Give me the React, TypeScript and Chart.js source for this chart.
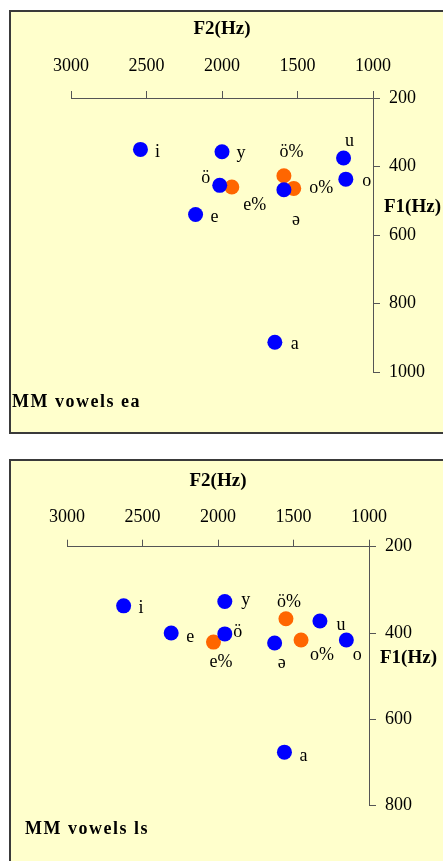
import React, { useEffect, useRef } from "react";
import { Chart, registerables } from "chart.js";

Chart.register(...registerables);

// ---------- Panel 1: "MM vowels ea" ----------
const eaVowelLabels = ["i", "y", "u", "o", "ö", "ə", "e", "a"];
const eaVowelF2 = [2540, 2000, 1195, 1180, 2015, 1590, 2175, 1650];
const eaVowelF1 = [350, 357, 375, 437, 455, 468, 540, 913];
const eaReducedLabels = ["e%", "ö%", "o%"];
const eaReducedF2 = [1935, 1590, 1525];
const eaReducedF1 = [460, 427, 464];

// ---------- Panel 2: "MM vowels ls" ----------
const lsVowelLabels = ["i", "y", "u", "e", "ö", "ə", "o", "a"];
const lsVowelF2 = [2625, 1955, 1325, 2310, 1955, 1625, 1150, 1560];
const lsVowelF1 = [337, 327, 372, 400, 402, 423, 416, 676];
const lsReducedLabels = ["ö%", "o%", "e%"];
const lsReducedF2 = [1550, 1450, 2030];
const lsReducedF1 = [367, 416, 421];

// ---------- Axis ticks ----------
const f2TickValues = [3000, 2500, 2000, 1500, 1000];
const eaF1TickValues = [200, 400, 600, 800, 1000];
const lsF1TickValues = [200, 400, 600, 800];

// ---------- Label placement (style only, pixel offsets from each point) ----------
const eaVowelOffsets = [[17, 8], [19, 6], [6, -12], [21, 7], [-14, -2], [12, 35], [19, 8], [20, 7]];
const eaReducedOffsets = [[23, 23], [7.5, -19], [27.5, 5]];
const lsVowelOffsets = [[17.5, 7], [21, 3.5], [21, 9], [19, 9], [13, 3], [7, 25], [11, 20], [19, 9]];
const lsReducedOffsets = [[3, -12], [21, 20], [7.5, 25]];

const SERIF = '"Liberation Serif", "Times New Roman", Times, serif';
const BLUE = "#0000FF";
const ORANGE = "#FF6600";
const AXIS = "#555555";
const W = 443;

type PanelConf = {
  title: string;
  canvasTop: number;
  height: number;
  plot: { left: number; right: number; top: number; bottom: number };
  f1Max: number;
  f1Ticks: number[];
  xTickPad: number;
  xTitlePad: number;
  f1TitleY: number;
  vowelLabels: string[];
  vowelF2: number[];
  vowelF1: number[];
  vowelOffsets: number[][];
  reducedLabels: string[];
  reducedF2: number[];
  reducedF1: number[];
  reducedOffsets: number[][];
};

const panels: PanelConf[] = [
  {
    title: "MM vowels ea",
    canvasTop: 0,
    height: 445,
    plot: { left: 71, right: 373, top: 98, bottom: 372 },
    f1Max: 1000,
    f1Ticks: eaF1TickValues,
    xTickPad: 14,
    xTitlePad: 18,
    f1TitleY: 207,
    vowelLabels: eaVowelLabels,
    vowelF2: eaVowelF2,
    vowelF1: eaVowelF1,
    vowelOffsets: eaVowelOffsets,
    reducedLabels: eaReducedLabels,
    reducedF2: eaReducedF2,
    reducedF1: eaReducedF1,
    reducedOffsets: eaReducedOffsets,
  },
  {
    title: "MM vowels ls",
    canvasTop: 445,
    height: 416,
    plot: { left: 67, right: 369, top: 101.7, bottom: 360.7 },
    f1Max: 800,
    f1Ticks: lsF1TickValues,
    xTickPad: 12,
    xTitlePad: 25,
    f1TitleY: 213,
    vowelLabels: lsVowelLabels,
    vowelF2: lsVowelF2,
    vowelF1: lsVowelF1,
    vowelOffsets: lsVowelOffsets,
    reducedLabels: lsReducedLabels,
    reducedF2: lsReducedF2,
    reducedF1: lsReducedF1,
    reducedOffsets: lsReducedOffsets,
  },
];

function makeLabelPlugin(conf: PanelConf) {
  return {
    id: "vowelLabels",
    afterDatasetsDraw(chart: any) {
      const ctx = chart.ctx;
      ctx.save();
      ctx.fillStyle = "#000";
      ctx.font = `18px ${SERIF}`;
      ctx.textAlign = "center";
      ctx.textBaseline = "alphabetic";
      const sets = [
        { labels: conf.vowelLabels, offsets: conf.vowelOffsets },
        { labels: conf.reducedLabels, offsets: conf.reducedOffsets },
      ];
      sets.forEach((set, di) => {
        const meta = chart.getDatasetMeta(di);
        meta.data.forEach((el: any, i: number) => {
          const [dx, dy] = set.offsets[i];
          ctx.fillText(set.labels[i], el.x + dx, el.y + dy);
        });
      });
      ctx.font = `bold 19px ${SERIF}`;
      ctx.textAlign = "left";
      ctx.textBaseline = "middle";
      ctx.fillText("F1(Hz)", chart.chartArea.right + 11, conf.f1TitleY);
      ctx.restore();
    },
  };
}

function VowelChart({ conf }: { conf: PanelConf }) {
  const ref = useRef<HTMLCanvasElement | null>(null);
  useEffect(() => {
    const canvas = ref.current;
    if (!canvas) return;
    const xHeight = conf.plot.top;
    const yWidth = W - conf.plot.right;
    const chart = new Chart(canvas, {
      type: "scatter",
      data: {
        datasets: [
          {
            label: "vowels",
            data: conf.vowelF2.map((x, i) => ({ x, y: conf.vowelF1[i] })),
            backgroundColor: BLUE,
            borderWidth: 0,
            pointRadius: 7.5,
            pointHoverRadius: 7.5,
          },
          {
            label: "reduced",
            data: conf.reducedF2.map((x, i) => ({ x, y: conf.reducedF1[i] })),
            backgroundColor: ORANGE,
            borderWidth: 0,
            pointRadius: 7.5,
            pointHoverRadius: 7.5,
          },
        ],
      },
      options: {
        responsive: false,
        animation: false,
        events: [],
        layout: {
          padding: { left: conf.plot.left, top: 0, right: 0, bottom: conf.height - conf.plot.bottom },
        },
        plugins: {
          legend: { display: false },
          tooltip: { enabled: false },
          title: { display: false },
        },
        scales: {
          x: {
            type: "linear",
            position: "top",
            reverse: true,
            min: 1000,
            max: 3000,
            afterBuildTicks: (s: any) => {
              s.ticks = f2TickValues.map((v) => ({ value: v }));
            },
            afterFit: (s: any) => {
              s.height = xHeight;
            },
            grid: {
              display: true,
              drawOnChartArea: false,
              drawTicks: true,
              tickLength: 7,
              color: AXIS,
              lineWidth: 1,
            },
            border: { display: true, color: AXIS, width: 1 },
            ticks: {
              color: "#000",
              font: { family: SERIF, size: 18 },
              padding: conf.xTickPad,
              maxRotation: 0,
              autoSkip: false,
              callback: (v: any) => String(v),
            },
            title: {
              display: true,
              text: "F2(Hz)",
              color: "#000",
              font: { family: SERIF, size: 19, weight: "bold" },
              padding: { top: conf.xTitlePad, bottom: 0 },
            },
          },
          y: {
            type: "linear",
            position: "right",
            reverse: true,
            min: 200,
            max: conf.f1Max,
            afterBuildTicks: (s: any) => {
              s.ticks = conf.f1Ticks.map((v) => ({ value: v }));
            },
            afterFit: (s: any) => {
              s.width = yWidth;
            },
            grid: {
              display: true,
              drawOnChartArea: false,
              drawTicks: true,
              tickLength: 7,
              color: AXIS,
              lineWidth: 1,
            },
            border: { display: true, color: AXIS, width: 1 },
            ticks: {
              color: "#000",
              font: { family: SERIF, size: 18 },
              padding: 9,
              autoSkip: false,
              callback: (v: any) => String(v),
            },
            title: { display: false },
          },
        },
      },
      plugins: [makeLabelPlugin(conf)],
    } as any);
    return () => chart.destroy();
  }, [conf]);
  return (
    <canvas
      ref={ref}
      width={W}
      height={conf.height}
      style={{ position: "absolute", left: 0, top: conf.canvasTop, width: W, height: conf.height, zIndex: 2 }}
    />
  );
}

const panelBox: React.CSSProperties = {
  position: "absolute",
  left: 9,
  width: 450,
  boxSizing: "border-box",
  border: "2px solid #3a3a3a",
  background: "#FFFFCC",
  zIndex: 1,
};

const titleStyle: React.CSSProperties = {
  position: "absolute",
  fontFamily: SERIF,
  fontWeight: "bold",
  fontSize: 18,
  lineHeight: "20px",
  letterSpacing: "1.5px",
  color: "#000",
  whiteSpace: "nowrap",
  zIndex: 3,
};

export default function App() {
  return (
    <div
      style={{
        position: "fixed",
        left: 0,
        top: 0,
        width: W,
        height: 861,
        overflow: "hidden",
        background: "#fff",
      }}
    >
      <div style={{ ...panelBox, top: 10, height: 424 }} />
      <div style={{ ...panelBox, top: 459, height: 420 }} />
      {panels.map((p) => (
        <VowelChart key={p.title} conf={p} />
      ))}
      <div style={{ ...titleStyle, left: 12, top: 391 }}>{panels[0].title}</div>
      <div style={{ ...titleStyle, left: 25, top: 818 }}>{panels[1].title}</div>
    </div>
  );
}
